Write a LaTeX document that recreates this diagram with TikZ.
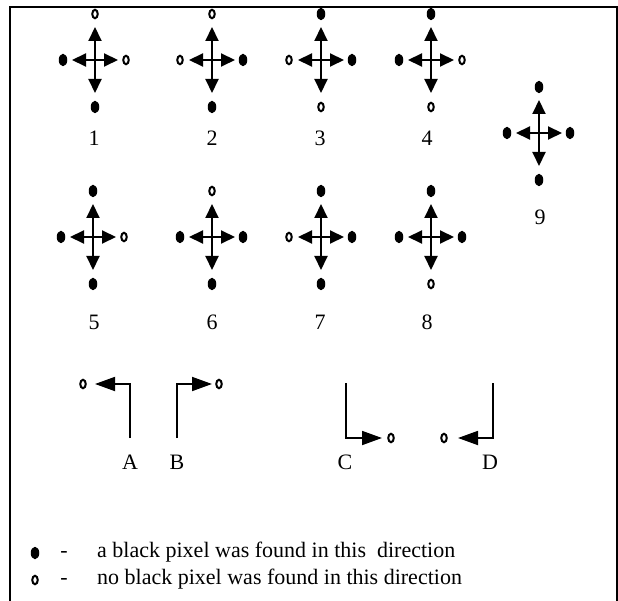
\documentclass[tikz,border=0pt]{standalone}
\usepackage{fontspec}
\setmainfont{Liberation Serif}
\usetikzlibrary{arrows.meta,shapes.geometric}
\tikzset{
  blk/.style={ellipse, fill=black, inner sep=0pt, minimum width=8.5pt, minimum height=12.5pt},
  wht/.style={ellipse, draw=black, line width=2pt, inner sep=0pt, minimum width=5.5pt, minimum height=8.5pt},
  cr/.style={line width=2pt, -{Triangle[length=14pt,width=13pt]}},
  la/.style={line width=1.8pt, -{Triangle[length=20pt,width=14pt]}},
  lbl/.style={font=\fontsize{22pt}{24pt}\selectfont, inner sep=0pt},
  frame/.style={line width=1.3pt}
}
% #1 name, #2 x, #3 y, #4 top, #5 right, #6 bottom, #7 left
\newcommand\crossfig[7]{%
  \begin{scope}[shift={(#2,#3)}]
    \coordinate (#1c) at (0,0);
    \coordinate (#1tt) at (0,-33);
    \coordinate (#1bt) at (0,33);
    \coordinate (#1lt) at (-23,0);
    \coordinate (#1rt) at (23,0);
    \node[#4] (#1t) at (0,-46) {};
    \node[#5] (#1r) at (31,0) {};
    \node[#6] (#1b) at (0,47) {};
    \node[#7] (#1l) at (-32,0) {};
    \draw[cr] (#1c) -- (#1tt);
    \draw[cr] (#1c) -- (#1bt);
    \draw[cr] (#1c) -- (#1lt);
    \draw[cr] (#1c) -- (#1rt);
  \end{scope}}
\begin{document}
\begin{tikzpicture}[x=1pt,y=-1pt]
\useasboundingbox (0,0) rectangle (618,601);
% frame
\coordinate (f1) at (10,601);
\coordinate (f2) at (10,7);
\coordinate (f3) at (617,7);
\coordinate (f4) at (617,601);
\draw[frame] (f1) -- (f2) -- (f3) -- (f4);
% row 1
\crossfig{one}{95}{60}{wht}{wht}{blk}{blk}
\crossfig{two}{212}{60}{wht}{blk}{blk}{wht}
\crossfig{three}{321}{60}{blk}{blk}{wht}{wht}
\crossfig{four}{431}{60}{blk}{wht}{wht}{blk}
\crossfig{nine}{539}{133}{blk}{blk}{blk}{blk}
% row 2
\crossfig{five}{93}{237}{blk}{wht}{blk}{blk}
\crossfig{six}{212}{237}{wht}{blk}{blk}{blk}
\crossfig{seven}{321}{237}{blk}{blk}{blk}{wht}
\crossfig{eight}{431}{237}{blk}{blk}{wht}{blk}
% labels
\node[lbl] (l1) at (94,138) {1};
\node[lbl] (l2) at (212,138) {2};
\node[lbl] (l3) at (320,138) {3};
\node[lbl] (l4) at (427,138) {4};
\node[lbl] (l9) at (540,217) {9};
\node[lbl] (l5) at (94,322) {5};
\node[lbl] (l6) at (212,322) {6};
\node[lbl] (l7) at (320,322) {7};
\node[lbl] (l8) at (427,322) {8};
% L shapes
\coordinate (Abot) at (130,438);
\coordinate (Acor) at (130,384);
\coordinate (Atip) at (95,384);
\node[wht] (Am) at (83,384) {};
\draw[la] (Abot) -- (Acor) -- (Atip);
\node[lbl] (Al) at (130,462) {A};
\coordinate (Bbot) at (177,438);
\coordinate (Bcor) at (177,384);
\coordinate (Btip) at (212,384);
\node[wht] (Bm) at (219,384) {};
\draw[la] (Bbot) -- (Bcor) -- (Btip);
\node[lbl] (Bl) at (177,462) {B};
\coordinate (Ctop) at (346,383);
\coordinate (Ccor) at (346,438);
\coordinate (Ctip) at (382,438);
\node[wht] (Cm) at (391,438) {};
\draw[la] (Ctop) -- (Ccor) -- (Ctip);
\node[lbl] (Cl) at (345,462) {C};
\coordinate (Dtop) at (493,383);
\coordinate (Dcor) at (493,438);
\coordinate (Dtip) at (458,438);
\node[wht] (Dm) at (444,438) {};
\draw[la] (Dtop) -- (Dcor) -- (Dtip);
\node[lbl] (Dl) at (490,462) {D};
% legend
\node[blk] (k1) at (35,553) {};
\node[lbl, anchor=base] (d1) at (64,557) {-};
\node[lbl, anchor=base west] (t1) at (97,557) {a black pixel was found in this\ \ direction};
\node[wht] (k2) at (35,580) {};
\node[lbl, anchor=base] (d2) at (64,584) {-};
\node[lbl, anchor=base west] (t2) at (97,584) {no black pixel was found in this direction};
\end{tikzpicture}
\end{document}
